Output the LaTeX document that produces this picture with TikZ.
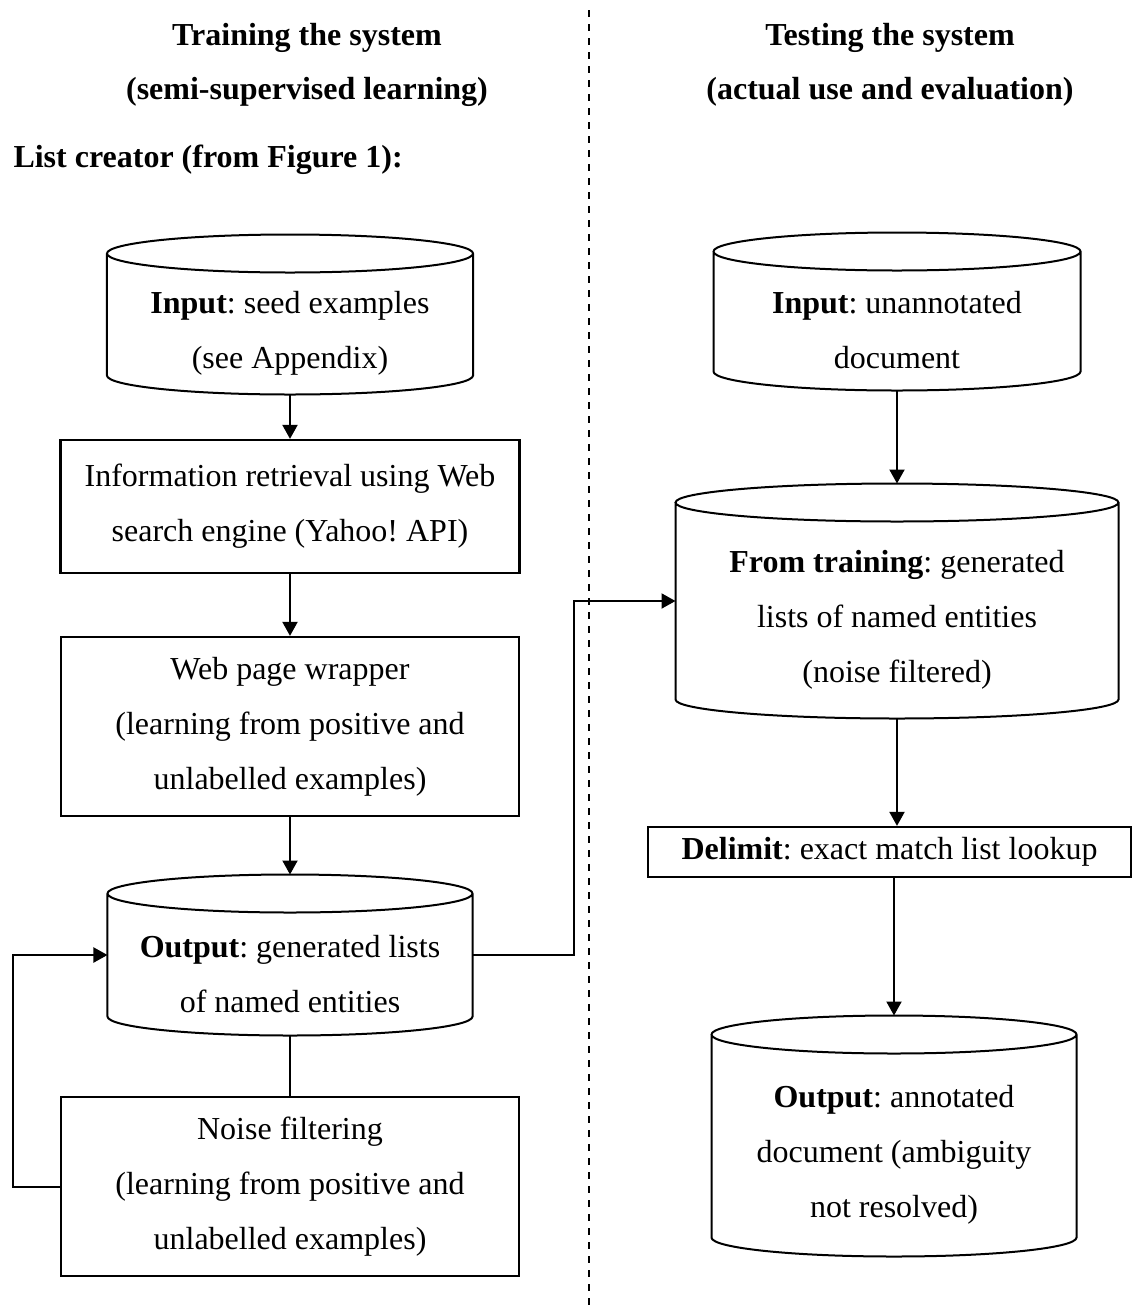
\documentclass[tikz,border=0pt]{standalone}
\usepackage{fontspec}
\setmainfont{Liberation Serif}
\usetikzlibrary{positioning, calc, arrows.meta}
\frenchspacing

\tikzset{
  every node/.style={font=\fontsize{12.8}{22}\selectfont},
  box/.style={draw, line width=0.9pt, align=center, inner sep=0pt},
  store/.style={align=center, inner sep=0pt},
  head/.style={font=\bfseries\fontsize{12.8}{21.6}\selectfont, align=center, inner sep=0pt},
  link/.style={line width=0.8pt, -{Triangle[length=5.6pt,width=6pt]}},
  wire/.style={line width=0.8pt}
}

% cylinder outline round a store node
\newcommand{\drum}[1]{%
  \draw[wire] let \p1=(#1.north west), \p2=(#1.north east), \n1={(\x2-\x1)/2} in
    ([yshift=7.6pt]#1.north west) -- ([yshift=7.6pt]#1.south west)
    arc[start angle=180, end angle=360, x radius=\n1, y radius=7.6pt]
    -- ([yshift=7.6pt]#1.north east)
    ([yshift=7.6pt]#1.north) ellipse[x radius=\n1, y radius=7.6pt];}

\begin{document}
\begin{tikzpicture}[x=0.4pt, y=0.4pt]
\useasboundingbox (0,0) rectangle (1132,-1314);

% headings
\node[head] (lefthead) at (307,-65) {Training the system\\(semi-supervised learning)};
\node[head] (righthead) at (890,-65) {Testing the system\\(actual use and evaluation)};
\node[head, anchor=west] (creator) at (13,-160) {List creator (from Figure 1):};
\draw[line width=0.8pt, dash pattern=on 2.8pt off 2.8pt] (589,-10) -- (589,-1312);

% training column
\node[store, minimum width=146pt, minimum height=48.4pt] (seed) at (290,-333.5)
  {\textbf{Input}: seed examples\\(see Appendix)};
\node[box, minimum width=183.6pt, minimum height=53.2pt] (ir) at (290,-506.5)
  {Information retrieval using Web\\search engine (Yahoo! API)};
\node[box, minimum width=183.2pt, minimum height=71.6pt] (wrap) at (290,-726.5)
  {Web page wrapper\\(learning from positive and\\unlabelled examples)};
\node[store, minimum width=145.6pt, minimum height=48.8pt] (lists) at (290,-974)
  {\textbf{Output}: generated lists\\of named entities};
\node[box, minimum width=183.2pt, minimum height=71.6pt] (noise) at (290,-1186.5)
  {Noise filtering\\(learning from positive and\\unlabelled examples)};

% testing column
\node[store, minimum width=146.4pt, minimum height=47.6pt] (doc) at (897,-330.5)
  {\textbf{Input}: unannotated\\document};
\node[store, minimum width=176.8pt, minimum height=78.4pt] (trained) at (897,-620)
  {\textbf{From training}: generated\\lists of named entities\\(noise filtered)};
\node[box, minimum width=193.2pt, minimum height=20pt] (delim) at (889.5,-852)
  {\textbf{Delimit}: exact match list lookup};
\node[store, minimum width=145.6pt, minimum height=80.8pt] (annot) at (894,-1155)
  {\textbf{Output}: annotated\\document (ambiguity\\not resolved)};

\drum{seed}
\drum{lists}
\drum{doc}
\drum{trained}
\drum{annot}

% connectors
\draw[link] (seed.south) -- (ir.north);
\draw[link] (ir.south) -- (wrap.north);
\draw[link] (wrap.south) -- ([yshift=15.2pt]lists.north);
\draw[wire] (lists.south) -- (noise.north);
\draw[link] (noise.west) -- ++(-47,0) |- ([yshift=7.6pt]lists.west);
\draw[link] ([yshift=7.6pt]lists.east) -- ++(101,0) |- ([yshift=7.6pt]trained.west);
\draw[link] (doc.south) -- ([yshift=15.2pt]trained.north);
\draw[link] (trained.south) -- (trained.south |- delim.north);
\draw[link] (annot.north |- delim.south) -- ([yshift=15.2pt]annot.north);
\end{tikzpicture}
\end{document}
